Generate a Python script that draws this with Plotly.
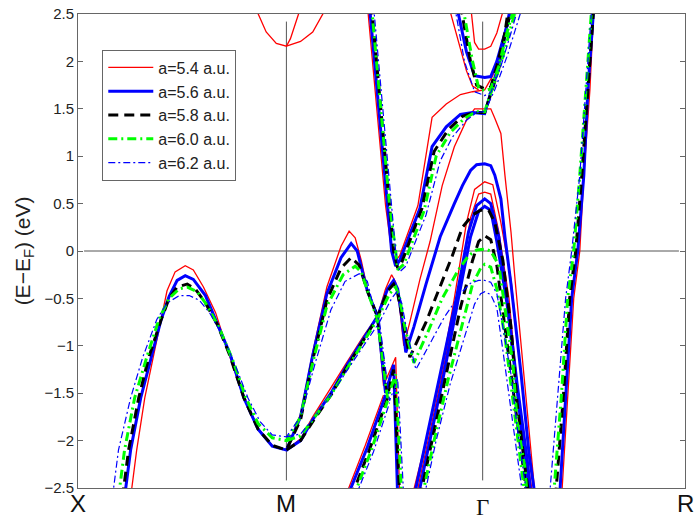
import plotly.graph_objects as go

# k-path positions of the high-symmetry points (path length units)
k_ticks = [0.0, 1.03, 2.0, 3.0]
k_labels = ["X", "M", "Γ", "R"]
y_ticks = [-2.5, -2, -1.5, -1, -0.5, 0, 0.5, 1, 1.5, 2, 2.5]

# ---- a = 5.4 a.u. (k, E-Ef) ----
a54_val = [(0.26,-2.6),(0.29,-2.1),(0.33,-1.55),(0.37,-1.15),(0.41,-0.73),(0.44,-0.42),(0.48,-0.22),(0.53,-0.155),
           (0.57,-0.2),(0.62,-0.38),(0.68,-0.65),(0.74,-1.05),(0.82,-1.55),(0.89,-1.87),(0.96,-2.05),(1.03,-2.1),
           (1.10,-1.72),(1.16,-1.07),(1.23,-0.38),(1.30,0.05),(1.34,0.21),(1.37,0.14),(1.40,-0.1),(1.43,-0.4),
           (1.48,-0.69),(1.51,-1.42),(1.57,-1.12),(1.59,-2.6)]
a54_m = [(0.87,2.6),(0.89,2.5),(0.93,2.31),(0.98,2.19),(1.03,2.16),(1.05,2.24),(1.09,2.5),(1.10,2.6)]
a54_m2 = [(1.03,2.16),(1.10,2.21),(1.16,2.31),(1.21,2.5),(1.22,2.6)]
a54_b = [(1.03,-2.1),(1.10,-1.98),(1.16,-1.75),(1.25,-1.45),(1.33,-1.17),(1.41,-0.9),(1.48,-0.69),(1.52,-0.4),
         (1.55,-0.25),(1.57,-0.33),(1.59,-0.6),(1.61,-1.0),(1.64,-0.75),(1.69,-0.3),(1.74,0.1),(1.80,0.69),
         (1.86,1.1),(1.92,1.38),(1.96,1.5),(2.01,1.5),(2.04,1.5),(2.06,1.4),(2.09,1.24),(2.11,0.8),(2.14,0.2),
         (2.16,-0.3),(2.20,-1.2),(2.23,-1.9),(2.26,-2.6)]
a54_l = [(1.32,-2.6),(1.42,-2.05),(1.51,-1.52)]
a54_up = [(1.43,2.6),(1.46,1.9),(1.49,1.2),(1.52,0.48),(1.55,0.0),(1.57,-0.1),(1.59,-0.05),(1.68,0.48),(1.75,1.41),
          (1.82,1.55),(1.89,1.65),(1.95,1.68),(2.01,1.7),(2.05,1.85),(2.10,2.2),(2.14,2.6)]
a54_top = [(1.94,2.6),(1.96,2.2),(1.98,2.13),(2.01,2.13),(2.04,2.16),(2.07,2.3),(2.11,2.6)]
a54_top2 = [(1.83,2.6),(1.88,2.2),(1.92,1.9),(1.95,1.74),(1.98,1.7)]
a54_p1 = [(1.65,-2.6),(1.72,-2.0),(1.79,-1.35),(1.86,-0.5),(1.92,0.3),(1.96,0.65),(2.01,0.73),(2.05,0.7),
          (2.09,0.3),(2.14,-0.3),(2.19,-1.3),(2.23,-2.2),(2.26,-2.6)]
a54_p2 = [(1.67,-2.6),(1.73,-2.0),(1.80,-1.3),(1.88,-0.45),(1.94,0.35),(1.98,0.6),(2.01,0.62),(2.04,0.6),
          (2.08,0.2),(2.13,-0.5),(2.17,-1.4),(2.22,-2.2),(2.25,-2.6)]
a54_r = [(2.39,-2.6),(2.42,-1.5),(2.45,-0.5),(2.48,0.0),(2.50,0.8),(2.53,1.7),(2.55,2.6)]

# ---- a = 5.6 a.u. ----
a56_val = [(0.23,-2.6),(0.26,-2.1),(0.31,-1.55),(0.36,-1.15),(0.41,-0.73),(0.45,-0.48),(0.49,-0.31),(0.53,-0.26),
           (0.57,-0.3),(0.63,-0.47),(0.68,-0.72),(0.75,-1.08),(0.82,-1.55),(0.89,-1.88),(0.96,-2.06),(1.03,-2.1),
           (1.10,-1.75),(1.16,-1.1),(1.23,-0.45),(1.30,-0.07),(1.35,0.08),(1.38,0.0),(1.43,-0.42),(1.48,-0.69),
           (1.52,-1.5),(1.56,-1.2),(1.58,-2.6)]
a56_b = [(1.03,-2.1),(1.10,-2.0),(1.16,-1.78),(1.25,-1.5),(1.33,-1.2),(1.41,-0.92),(1.48,-0.69),(1.53,-0.4),
         (1.56,-0.31),(1.58,-0.4),(1.60,-0.7),(1.62,-1.07),(1.66,-0.8),(1.72,-0.35),(1.79,0.15),(1.86,0.5),
         (1.90,0.69),(1.94,0.85),(1.97,0.91),(2.01,0.92),(2.04,0.9),(2.06,0.8),(2.09,0.55),(2.11,0.15),
         (2.14,-0.35),(2.19,-1.3),(2.23,-2.15),(2.26,-2.6)]
a56_l = [(1.33,-2.6),(1.43,-2.07),(1.52,-1.52)]
a56_up = [(1.44,2.6),(1.47,1.9),(1.50,1.2),(1.53,0.48),(1.55,0.0),(1.57,-0.16),(1.59,-0.1),(1.69,0.45),(1.75,1.1),
          (1.82,1.31),(1.89,1.44),(1.95,1.46),(2.01,1.45),(2.05,1.75),(2.09,2.05),(2.14,2.6)]
a56_top = [(1.87,2.6),(1.92,2.1),(1.96,1.85),(2.01,1.83),(2.04,1.84),(2.07,2.0),(2.11,2.3),(2.15,2.6)]
a56_p1 = [(1.66,-2.6),(1.72,-2.0),(1.79,-1.3),(1.87,-0.5),(1.93,0.2),(1.97,0.48),(2.01,0.55),(2.04,0.5),
          (2.08,0.15),(2.12,-0.5),(2.17,-1.4),(2.22,-2.2),(2.24,-2.6)]
a56_p2 = [(1.68,-2.6),(1.74,-2.0),(1.81,-1.28),(1.88,-0.5),(1.94,0.15),(1.98,0.42),(2.01,0.47),(2.04,0.43),
          (2.07,0.1),(2.12,-0.55),(2.17,-1.45),(2.21,-2.25),(2.23,-2.6)]
a56_r = [(2.38,-2.6),(2.41,-1.5),(2.44,-0.5),(2.47,0.0),(2.50,0.8),(2.52,1.7),(2.55,2.6)]

# ---- a = 5.8 a.u. ----
a58_val = [(0.22,-2.6),(0.25,-2.1),(0.30,-1.55),(0.35,-1.12),(0.41,-0.73),(0.45,-0.5),(0.49,-0.38),(0.54,-0.35),
           (0.58,-0.4),(0.63,-0.55),(0.69,-0.78),(0.75,-1.1),(0.82,-1.55),(0.89,-1.88),(0.96,-2.05),(1.03,-2.1),
           (1.10,-1.78),(1.16,-1.15),(1.23,-0.52),(1.30,-0.18),(1.35,-0.07),(1.39,-0.15),(1.43,-0.42),(1.48,-0.69),
           (1.53,-1.52),(1.56,-1.25),(1.59,-2.6)]
a58_b = [(1.03,-2.1),(1.10,-2.0),(1.16,-1.8),(1.25,-1.52),(1.33,-1.22),(1.41,-0.94),(1.48,-0.7),(1.53,-0.42),
         (1.56,-0.35),(1.58,-0.45),(1.61,-0.8),(1.64,-1.12),(1.72,-0.75),(1.79,-0.38),(1.85,-0.05),(1.90,0.25),
         (1.95,0.38),(1.99,0.43),(2.03,0.43),(2.06,0.3),(2.10,-0.1),(2.14,-0.8),(2.17,-1.6),(2.21,-2.3),(2.23,-2.6)]
a58_l = [(1.35,-2.6),(1.44,-2.1),(1.53,-1.55)]
a58_up = [(1.45,2.6),(1.48,1.9),(1.51,1.2),(1.54,0.48),(1.56,0.0),(1.58,-0.18),(1.60,-0.12),(1.70,0.45),(1.76,1.05),
          (1.83,1.28),(1.90,1.42),(1.96,1.46),(2.01,1.46),(2.05,1.72),(2.09,2.0),(2.13,2.6)]
a58_top = [(1.89,2.6),(1.94,2.0),(1.97,1.75),(2.01,1.71),(2.04,1.73),(2.07,1.95),(2.11,2.3),(2.15,2.6)]
a58_p1 = [(1.69,-2.6),(1.75,-2.0),(1.82,-1.3),(1.89,-0.6),(1.95,-0.1),(1.98,0.1),(2.01,0.16),(2.04,0.12),
          (2.07,-0.15),(2.11,-0.8),(2.16,-1.6),(2.20,-2.3),(2.22,-2.6)]
a58_r = [(2.36,-2.6),(2.40,-1.5),(2.43,-0.5),(2.46,0.0),(2.49,0.8),(2.52,1.7),(2.55,2.6)]

# ---- a = 6.0 a.u. ----
a60_val = [(0.20,-2.6),(0.23,-2.1),(0.28,-1.55),(0.34,-1.12),(0.40,-0.72),(0.45,-0.5),(0.50,-0.4),(0.54,-0.38),
           (0.59,-0.43),(0.64,-0.58),(0.70,-0.82),(0.77,-1.18),(0.83,-1.55),(0.89,-1.82),(0.96,-1.97),(1.03,-2.0),
           (1.10,-1.75),(1.16,-1.18),(1.23,-0.58),(1.31,-0.25),(1.37,-0.16),(1.40,-0.22),(1.44,-0.48),(1.48,-0.72),
           (1.53,-1.55),(1.57,-1.3),(1.60,-2.6)]
a60_b = [(1.03,-2.0),(1.10,-1.95),(1.16,-1.78),(1.25,-1.52),(1.33,-1.24),(1.41,-0.96),(1.48,-0.72),(1.54,-0.45),
         (1.57,-0.38),(1.59,-0.5),(1.62,-0.85),(1.66,-1.18),(1.73,-0.85),(1.80,-0.5),(1.88,-0.2),(1.93,-0.05),
         (1.97,0.01),(2.01,0.02),(2.04,0.0),(2.08,-0.15),(2.11,-0.6),(2.15,-1.2),(2.17,-1.8),(2.21,-2.3),(2.22,-2.6)]
a60_l = [(1.36,-2.6),(1.45,-2.1),(1.53,-1.58)]
a60_up = [(1.45,2.6),(1.48,1.9),(1.51,1.2),(1.54,0.48),(1.57,0.0),(1.58,-0.2),(1.61,-0.14),(1.71,0.42),(1.77,1.0),
          (1.84,1.25),(1.91,1.4),(1.97,1.47),(2.01,1.47),(2.05,1.72),(2.10,2.05),(2.17,2.6)]
a60_top = [(1.90,2.6),(1.95,2.0),(1.98,1.72),(2.01,1.69),(2.04,1.71),(2.08,1.95),(2.12,2.3),(2.16,2.6)]
a60_p1 = [(1.70,-2.6),(1.76,-2.0),(1.83,-1.35),(1.90,-0.75),(1.95,-0.35),(1.99,-0.18),(2.01,-0.14),(2.04,-0.17),
          (2.07,-0.4),(2.11,-0.9),(2.15,-1.6),(2.19,-2.3),(2.21,-2.6)]
a60_r = [(2.35,-2.6),(2.39,-1.5),(2.42,-0.5),(2.45,0.0),(2.48,0.8),(2.51,1.7),(2.54,2.6)]

# ---- a = 6.2 a.u. ----
a62_val = [(0.17,-2.6),(0.20,-2.1),(0.26,-1.55),(0.32,-1.12),(0.39,-0.72),(0.44,-0.55),(0.50,-0.47),(0.55,-0.47),
           (0.60,-0.52),(0.65,-0.65),(0.71,-0.88),(0.78,-1.22),(0.84,-1.55),(0.90,-1.8),(0.96,-1.94),(1.03,-1.96),
           (1.10,-1.75),(1.17,-1.2),(1.25,-0.62),(1.32,-0.32),(1.39,-0.24),(1.43,-0.32),(1.45,-0.5),(1.49,-0.75),
           (1.54,-1.58),(1.58,-1.35),(1.61,-2.6)]
a62_b = [(1.03,-1.96),(1.10,-1.93),(1.17,-1.75),(1.25,-1.52),(1.33,-1.26),(1.41,-1.0),(1.49,-0.75),(1.55,-0.5),
         (1.58,-0.42),(1.60,-0.55),(1.63,-0.9),(1.67,-1.25),(1.74,-0.98),(1.81,-0.7),(1.89,-0.45),(1.94,-0.34),
         (1.98,-0.31),(2.01,-0.31),(2.04,-0.33),(2.07,-0.45),(2.10,-0.8),(2.14,-1.3),(2.17,-1.85),(2.20,-2.3),(2.22,-2.6)]
a62_l = [(1.37,-2.6),(1.46,-2.12),(1.54,-1.6)]
a62_up = [(1.46,2.6),(1.49,1.9),(1.52,1.2),(1.55,0.48),(1.57,0.0),(1.59,-0.22),(1.62,-0.16),(1.72,0.38),(1.79,0.95),
          (1.85,1.2),(1.92,1.38),(1.97,1.46),(2.01,1.47),(2.06,1.7),(2.12,2.05),(2.20,2.6)]
a62_top = [(1.86,2.6),(1.91,2.0),(1.96,1.68),(2.01,1.64),(2.04,1.67),(2.09,1.95),(2.14,2.3),(2.18,2.6)]
a62_p1 = [(1.71,-2.6),(1.77,-2.0),(1.84,-1.4),(1.91,-0.9),(1.96,-0.56),(1.99,-0.45),(2.01,-0.43),(2.04,-0.46),
          (2.07,-0.6),(2.10,-1.05),(2.14,-1.7),(2.18,-2.3),(2.20,-2.6)]
a62_r = [(2.33,-2.6),(2.37,-1.5),(2.41,-0.5),(2.44,0.0),(2.48,0.8),(2.51,1.7),(2.54,2.6)]

series = [
    ("a=5.4 a.u.", [a54_val, a54_m, a54_m2, a54_b, a54_l, a54_up, a54_top, a54_top2, a54_p1, a54_p2, a54_r],
     dict(color="#ff0000", width=1.3)),
    ("a=5.6 a.u.", [a56_val, a56_b, a56_l, a56_up, a56_top, a56_p1, a56_p2, a56_r],
     dict(color="#0000ff", width=3)),
    ("a=5.8 a.u.", [a58_val, a58_b, a58_l, a58_up, a58_top, a58_p1, a58_r],
     dict(color="#000000", width=3, dash="10px,6px")),
    ("a=6.0 a.u.", [a60_val, a60_b, a60_l, a60_up, a60_top, a60_p1, a60_r],
     dict(color="#00ff00", width=3, dash="9px,4px,2px,4px")),
    ("a=6.2 a.u.", [a62_val, a62_b, a62_l, a62_up, a62_top, a62_p1, a62_r],
     dict(color="#0000ff", width=1.2, dash="7px,3px,2px,3px")),
]

fig = go.Figure()

for name, bands, line in series:
    xs, ys = [], []
    for band in bands:
        xs += [p[0] for p in band] + [None]
        ys += [p[1] for p in band] + [None]
    fig.add_trace(go.Scatter(x=xs, y=ys, mode="lines", name=name, line=line, hoverinfo="skip"))

# Fermi level and high-symmetry lines
fig.add_shape(type="line", x0=0.03, x1=2.97, y0=0, y1=0, line=dict(color="#555", width=1), layer="below")
for kv in k_ticks[1:3]:
    fig.add_shape(type="line", x0=kv, x1=kv, y0=-2.42, y1=2.42, line=dict(color="#555", width=1), layer="below")

# k-point labels
for kv, lab in zip(k_ticks, k_labels):
    fig.add_annotation(x=kv, y=0, xref="x", yref="paper", text=lab, showarrow=False,
                       yanchor="top", yshift=-5 if lab == "Γ" else 0,
                       font=dict(size=24 if lab != "Γ" else 23, color="#111",
                                 family="Liberation Serif" if lab == "Γ" else "Liberation Sans"))

fig.update_layout(
    width=700, height=521,
    margin=dict(l=78, r=15, t=5, b=33),
    plot_bgcolor="white", paper_bgcolor="white",
    font=dict(family="Liberation Sans", color="#222"),
    legend=dict(x=0.04, y=0.925, xanchor="left", yanchor="top", bgcolor="white",
                bordercolor="#666", borderwidth=1, font=dict(size=16), itemwidth=45,
                tracegroupgap=2),
)
fig.update_xaxes(range=[0, 3.0], showgrid=False, zeroline=False, showticklabels=False, ticks="",
                 showline=True, mirror=True, linecolor="#666", linewidth=1)
fig.update_yaxes(range=[-2.5, 2.5], tickvals=y_ticks, showgrid=False, zeroline=False,
                 ticks="inside", ticklen=5, tickcolor="#666", showline=True, mirror="ticks",
                 linecolor="#666", linewidth=1, tickfont=dict(size=15), ticklabeloverflow="allow",
                 title=dict(text="(E−E<sub>F</sub>) (eV)", font=dict(size=21), standoff=8))

# the page's default body margin would shift the figure by 8px
fig.write_html("out.html", config={"displayModeBar": False},
               post_script="document.body.style.margin='0px';")
